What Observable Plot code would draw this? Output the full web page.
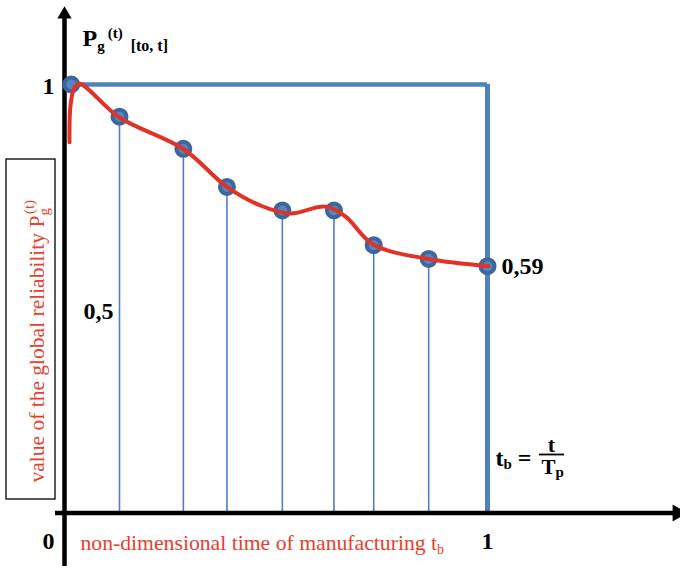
<!DOCTYPE html>
<html><head><meta charset="utf-8">
<script src="https://cdn.jsdelivr.net/npm/d3@7"></script>
<script src="https://cdn.jsdelivr.net/npm/@observablehq/plot@0.6"></script>
<style>body{margin:0;background:#fff} svg{display:block}</style>
</head><body><div id="chart"></div>
<script>
// measured points: non-dimensional time t_b and global reliability P_g(t)
const tb = [0.016, 0.130, 0.281, 0.384, 0.515, 0.637, 0.731, 0.861, 1.0];
const reliability = [1.0, 0.925, 0.850, 0.761, 0.706, 0.706, 0.625, 0.593, 0.576];
// hand-drawn red fitted curve
const curveT = [0.0118, 0.0142, 0.0236, 0.0355, 0.130, 0.281, 0.384, 0.463, 0.534, 0.617, 0.664, 0.730, 0.861, 1.002];
const curveP = [0.865, 0.951, 0.993, 1.002, 0.923, 0.8495, 0.761, 0.7176, 0.699, 0.715, 0.692, 0.6266, 0.5928, 0.5764];
// tick / annotation labels
const xTickLabels = ["0", "1"];
const yTickLabels = ["1", "0,5"];
const endLabel = "0,59";
const xTitle = "non-dimensional time of manufacturing t";
const yTitle = "value of the global reliability P";

const pts = tb.map((t, i) => ({t, p: reliability[i]}));
const curve = curveT.map((t, i) => ({t, p: curveP[i]}));

// pixel -> data helpers for annotation placement
const X = px => (px - 64) / 423;
const Y = py => (512.5 - py) / 428.5;

const blue = "#4f81bd";
const red = "#e03325";
const redText = "#e8402f";
const font = "Liberation Serif";

const txt = (opts) => ({lineAnchor: "bottom", fontFamily: font, fill: "black", text: d => d, ...opts});

const svg = Plot.plot({
  width: 680, height: 570,
  marginTop: 0, marginRight: 0, marginBottom: 0, marginLeft: 0,
  x: {domain: [0, 1], range: [64, 487], axis: null},
  y: {domain: [0, 1], range: [512.5, 84], axis: null},
  style: {fontFamily: font, background: "white"},
  marks: [
    // left title box
    Plot.rect([0], {x1: X(6), x2: X(55), y1: Y(499), y2: Y(159), fill: "none", stroke: "black", strokeWidth: 1.3}),
    // thin drop lines
    Plot.ruleX(pts.slice(1), {x: "t", y1: 0, y2: "p", stroke: blue, strokeWidth: 1.6}),
    // blue frame
    Plot.ruleY([1], {x1: 0, x2: 1, stroke: blue, strokeWidth: 4.5}),
    Plot.ruleX([1], {y1: 0, y2: 1, stroke: blue, strokeWidth: 5}),
    // axes
    Plot.ruleY([0], {x1: X(55), x2: X(673), stroke: "black", strokeWidth: 4.5}),
    Plot.ruleX([0], {y1: Y(566), y2: Y(15), stroke: "black", strokeWidth: 4.5}),
    Plot.dot([0], {x: 0, y: Y(14), symbol: "triangle", r: 5.3, fill: "black", stroke: "none"}),
    Plot.dot([0], {x: X(677), y: 0, symbol: "triangle", r: 6.3, rotate: 90, fill: "black", stroke: "none"}),
    // points
    Plot.dot(pts, {x: "t", y: "p", r: 7, fill: "#5585c3", stroke: "#3d679c", strokeWidth: 4}),
    // red curve
    Plot.line(curve, {x: "t", y: "p", curve: "catmull-rom", stroke: red, strokeWidth: 4}),
    // tick labels
    Plot.text([yTickLabels[0]], txt({x: X(54), y: Y(93), textAnchor: "end", fontSize: 24, fontWeight: "bold"})),
    Plot.text([yTickLabels[1]], txt({x: X(83), y: Y(318), textAnchor: "start", fontSize: 24, fontWeight: "bold"})),
    Plot.text([endLabel], txt({x: X(501), y: Y(273), textAnchor: "start", fontSize: 24, fontWeight: "bold"})),
    Plot.text([xTickLabels[0]], txt({x: X(54), y: Y(548), textAnchor: "end", fontSize: 24, fontWeight: "bold"})),
    Plot.text([xTickLabels[1]], txt({x: 1, y: Y(548), textAnchor: "middle", fontSize: 24, fontWeight: "bold"})),
    // y label at top
    Plot.text(["P"], txt({x: X(82), y: Y(45), textAnchor: "start", fontSize: 24, fontWeight: "bold"})),
    // formula t_b = t / T_p
    Plot.text(["t"], txt({x: X(495), y: Y(465), textAnchor: "start", fontSize: 24, fontWeight: "bold"})),
    Plot.text(["t"], txt({x: X(551), y: Y(451), textAnchor: "middle", fontSize: 22, fontWeight: "bold"})),
    Plot.ruleY([Y(454)], {x1: X(539), x2: X(564), stroke: "black", strokeWidth: 1.8}),
    Plot.text(["T"], txt({x: X(541), y: Y(473), textAnchor: "start", fontSize: 21, fontWeight: "bold"})),
    // titles in red
    Plot.text([xTitle], txt({x: X(80), y: Y(549), textAnchor: "start", fontSize: 21.7, fill: redText})),
    Plot.text([yTitle], txt({x: X(43), y: Y(482), rotate: -90, textAnchor: "start", fontSize: 21.5, fill: redText}))
  ]
});

function enrich(content, parts, index = 0) {
  const nodes = d3.select(svg).selectAll("text").filter(function() { return this.textContent === content; }).nodes();
  const node = nodes[index];
  if (!node) return;
  const t = d3.select(node);
  parts.forEach(p => t.append("tspan").attr("dx", p.dx || 0).attr("dy", p.dy || 0).attr("font-size", p.size).text(p.s));
}
enrich("P", [
  {s: "g", dy: 5, size: 15},
  {s: "(t)", dx: 3, dy: -13, size: 15},
  {s: "[to, t]", dx: 8, dy: 13, size: 16}
]);
enrich("t", [
  {s: "b", dy: 3, size: 15},
  {s: " = ", dy: -3, size: 24}
], 0);
enrich("T", [{s: "p", dy: 3, size: 15}]);
enrich(xTitle, [{s: "b", dy: 4, size: 14}]);
enrich(yTitle, [
  {s: "g", dy: 5, size: 15},
  {s: "(t)", dx: -6, dy: -15, size: 15}
]);

document.getElementById("chart").appendChild(svg);
</script>
</body></html>
